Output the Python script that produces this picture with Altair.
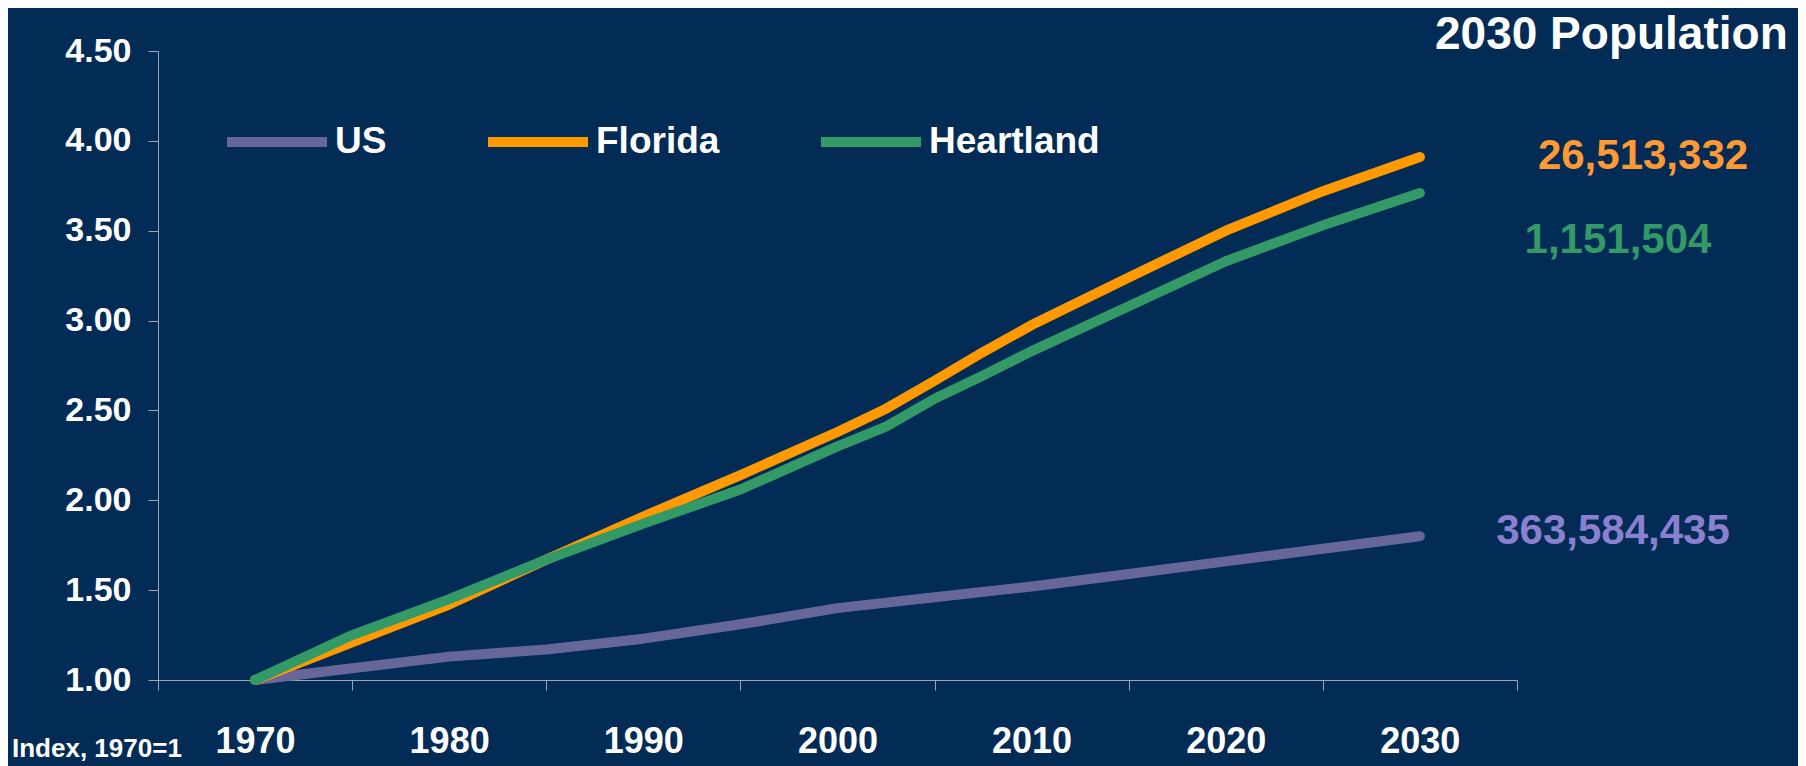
import altair as alt
import pandas as pd

series_names = ["US", "Florida", "Heartland"]
series_colors = ["#666699", "#FF9900", "#339966"]

us_years = [1970, 1975, 1980, 1985, 1990, 1995, 2000, 2005, 2010, 2015, 2020, 2025, 2030]
us_values = [1.00, 1.065, 1.13, 1.17, 1.23, 1.31, 1.40, 1.46, 1.52, 1.59, 1.66, 1.73, 1.80]

fl_years = [1970, 1975, 1980, 1985, 1990, 1995, 2000, 2002.5, 2005, 2007.5, 2010, 2015, 2020, 2025, 2030]
fl_values = [1.00, 1.21, 1.42, 1.67, 1.91, 2.14, 2.38, 2.51, 2.665, 2.825, 2.975, 3.24, 3.50, 3.72, 3.91]

hl_years = [1970, 1975, 1980, 1985, 1990, 1995, 2000, 2002.5, 2005, 2007.5, 2010, 2015, 2020, 2025, 2030]
hl_values = [1.00, 1.25, 1.45, 1.67, 1.87, 2.06, 2.30, 2.41, 2.565, 2.695, 2.83, 3.08, 3.33, 3.53, 3.71]

pop_2030 = ["26,513,332", "1,151,504", "363,584,435"]
pop_colors = ["#FF9933", "#339966", "#8A80D0"]

y_ticks = [1.0, 1.5, 2.0, 2.5, 3.0, 3.5, 4.0, 4.5]
x_ticks = [1965, 1975, 1985, 1995, 2005, 2015, 2025, 2035]

rows = []
for name, yrs, vals in [("US", us_years, us_values), ("Florida", fl_years, fl_values), ("Heartland", hl_years, hl_values)]:
    for yr, v in zip(yrs, vals):
        rows.append({"Series": name, "Year": yr, "Index": v})
df = pd.DataFrame(rows)

BG = "#022C55"
AXIS_COL = "#9AA6B6"
BOLD = "Liberation Sans, Arial, sans-serif"

W, H = 1359, 629

lines = alt.Chart(df).mark_line(strokeWidth=10, strokeCap="round", strokeJoin="round").encode(
    x=alt.X("Year:Q", scale=alt.Scale(domain=[1965, 2035], nice=False, zero=False),
            axis=alt.Axis(values=x_ticks, title=None, grid=False,
                          labelExpr="datum.value < 2035 ? '' + (datum.value + 5) : ''",
                          labelOffset=97, labelFlush=False, labelOverlap=False,
                          labelFont=BOLD, labelFontSize=36, labelFontWeight="bold",
                          labelColor="white", labelBaseline="alphabetic", labelPadding=62,
                          tickSize=10, tickColor=AXIS_COL, domainColor=AXIS_COL)),
    y=alt.Y("Index:Q", scale=alt.Scale(domain=[1.0, 4.5], nice=False, zero=False),
            axis=alt.Axis(values=y_ticks, format=".2f", title=None, grid=False,
                          labelFont=BOLD, labelFontSize=34, labelFontWeight="bold",
                          labelColor="white", labelPadding=17,
                          tickSize=10, tickColor=AXIS_COL, domainColor=AXIS_COL)),
    color=alt.Color("Series:N", sort=series_names,
                    scale=alt.Scale(domain=series_names, range=series_colors),
                    legend=alt.Legend(title=None, orient="none", direction="horizontal",
                                      legendX=64, legendY=36, symbolType="stroke",
                                      symbolSize=10000, symbolStrokeWidth=10,
                                      labelFont=BOLD, labelFontSize=37, labelFontWeight="bold",
                                      labelColor="white", labelOffset=3, columnPadding=81,
                                      labelLimit=400, gridAlign="none", padding=0)),
    detail="Series:N",
)

title_txt = alt.Chart(pd.DataFrame({"t": ["2030 Population"]})).mark_text(
    font=BOLD, fontSize=46, fontWeight="bold", color="white", align="left", baseline="alphabetic"
).encode(text="t:N", x=alt.value(1277), y=alt.value(-2))

pop_layers = []
pop_pos = [(1485, 118), (1460, 202), (1455, 493)]
for label, col, (px, py) in zip(pop_2030, pop_colors, pop_pos):
    pop_layers.append(
        alt.Chart(pd.DataFrame({"t": [label]})).mark_text(
            font=BOLD, fontSize=42, fontWeight="bold", color=col, align="center", baseline="alphabetic"
        ).encode(text="t:N", x=alt.value(px), y=alt.value(py))
    )

index_txt = alt.Chart(pd.DataFrame({"t": ["Index, 1970=1"]})).mark_text(
    font=BOLD, fontSize=26, fontWeight="bold", color="white", align="left", baseline="alphabetic"
).encode(text="t:N", x=alt.value(-146), y=alt.value(706))

chart = alt.layer(lines, title_txt, *pop_layers, index_txt).properties(
    width=W, height=H,
    background=BG,
    padding={"left": 150, "top": 43, "right": 281, "bottom": 86},
    autosize=alt.AutoSizeParams(type="none"),
).configure_view(stroke=None)

chart.save("out.html", embed_options={"renderer": "svg", "actions": False})
